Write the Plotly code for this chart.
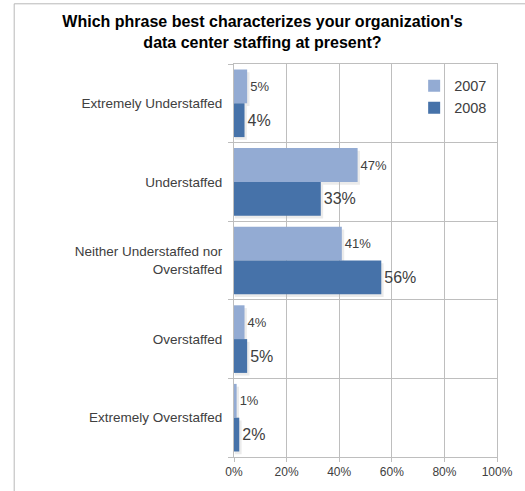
import plotly.graph_objects as go

categories = [
    "Extremely Understaffed",
    "Understaffed",
    "Neither Understaffed nor<br>Overstaffed",
    "Overstaffed",
    "Extremely Overstaffed",
]
values_2007 = [5, 47, 41, 4, 1]
values_2008 = [4, 33, 56, 5, 2]
x_ticks = [0, 20, 40, 60, 80, 100]

LIGHT = "#93ABD3"
DARK = "#4672A9"
TEXT = "#404040"
GRID = "#BEBEBE"
FRAME = "#B8B8B8"
FONT = "Liberation Sans, Arial, sans-serif"

BARGAP = 0.14
half = (1 - BARGAP) / 2

fig = go.Figure()

# soft drop shadows behind each bar (slightly offset right/down)
shapes = []
dx, dy = 0.9, 0.035
for i, (a, b) in enumerate(zip(values_2007, values_2008)):
    for val, y0, y1 in ((a, i - half, i), (b, i, i + half)):
        shapes.append(dict(
            type="rect", xref="x", yref="y", layer="below",
            x0=0.3, x1=val + dx, y0=y0 + dy, y1=y1 + dy,
            fillcolor="rgba(0,0,0,0.08)", line=dict(width=0),
        ))

# outer chart frame (left and top edges)
fx0 = -229 / 274
fy1 = 1 + 60.5 / 395
shapes.append(dict(type="line", xref="paper", yref="paper", layer="above",
                   x0=fx0, x1=fx0, y0=-0.2, y1=fy1,
                   line=dict(color=FRAME, width=1)))
shapes.append(dict(type="line", xref="paper", yref="paper", layer="above",
                   x0=fx0, x1=1.2, y0=fy1, y1=fy1,
                   line=dict(color=FRAME, width=1)))

fig.add_trace(go.Bar(
    name="2007", y=list(range(5)), x=values_2007, orientation="h",
    marker=dict(color=LIGHT, line=dict(width=0)),
    text=[f"{v}%" for v in values_2007], textposition="outside",
    textfont=dict(size=13, color=TEXT, family=FONT), cliponaxis=False,
))
fig.add_trace(go.Bar(
    name="2008", y=list(range(5)), x=values_2008, orientation="h",
    marker=dict(color=DARK, line=dict(width=0)),
    text=[f"{v}%" for v in values_2008], textposition="outside",
    textfont=dict(size=16, color=TEXT, family=FONT), cliponaxis=False,
))

fig.update_layout(
    width=525, height=491,
    margin=dict(l=234, r=17, t=64, b=32),
    paper_bgcolor="white", plot_bgcolor="white",
    barmode="group", bargap=BARGAP, bargroupgap=0,
    font=dict(family=FONT, color=TEXT),
    title=dict(
        text="<b>Which phrase best characterizes your organization's<br>data center staffing at present?</b>",
        x=0.5, xref="container", xanchor="center",
        y=0.945, yref="container", yanchor="top",
        font=dict(size=16, color="black", family=FONT),
    ),
    showlegend=True,
    legend=dict(
        x=0.685, y=0.985, xanchor="left", yanchor="top",
        bgcolor="rgba(0,0,0,0)", font=dict(size=14.5, color=TEXT),
        itemwidth=30, tracegroupgap=2,
    ),
    shapes=shapes,
    xaxis=dict(
        range=[0, 100], tickvals=x_ticks, ticktext=[f"{t}%" for t in x_ticks],
        showgrid=True, gridcolor=GRID, gridwidth=1,
        showline=True, linecolor=GRID, mirror=True,
        ticks="outside", ticklen=4, tickcolor=GRID,
        tickfont=dict(size=12, color=TEXT), zeroline=False,
    ),
    yaxis=dict(
        range=[4.5, -0.5], tickvals=list(range(5)), ticktext=categories,
        showgrid=False,
        showline=True, linecolor=GRID, mirror=True,
        ticks="", tickfont=dict(size=13.5, color=TEXT),
        ticklabelstandoff=8, zeroline=False,
        minor=dict(tickvals=[-0.5, 0.5, 1.5, 2.5, 3.5, 4.5], showgrid=True,
                   gridcolor=GRID, ticks="outside", ticklen=5, tickcolor=GRID),
    ),
)

fig.write_html("out.html")
